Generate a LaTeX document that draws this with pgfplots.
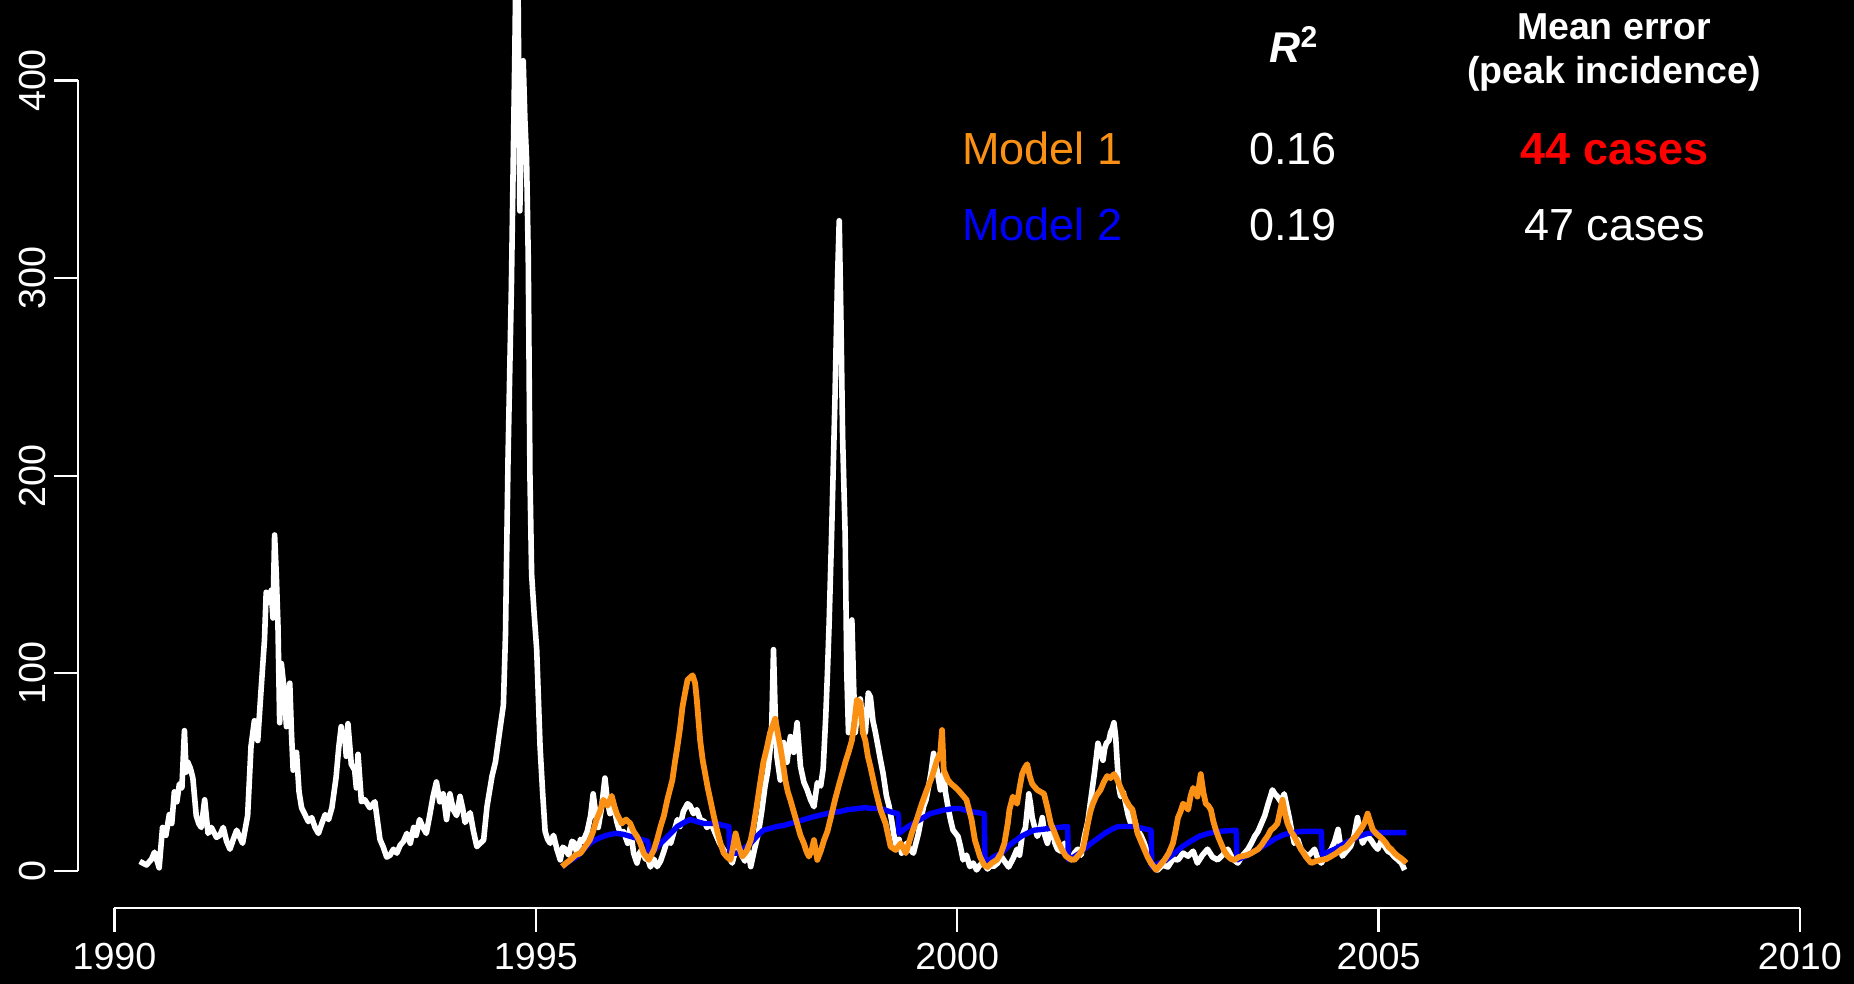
\documentclass[border=0pt]{standalone}
\usepackage{pgfplots}
\pgfplotsset{compat=1.18}
\usetikzlibrary{backgrounds}
\usepackage{fontspec}
\setmainfont{Liberation Sans}
\definecolor{mod1}{RGB}{250,145,20}
\definecolor{mod2}{RGB}{0,0,255}
\definecolor{errred}{RGB}{255,0,0}

\begin{document}
\begin{tikzpicture}
\begin{axis}[
  scale only axis,
  width=842.75bp, height=395.25bp,
  xmin=1990, xmax=2010, ymin=0, ymax=400,
  clip=false,
  axis x line=bottom, axis y line=left,
  axis x line shift=18.5bp, axis y line shift=18.25bp,
  axis line style={white, line width=1.1bp, -},
  xtick={1990,1995,2000,2005,2010},
  ytick={0,100,200,300,400},
  tick align=outside,
  major tick length=12bp,
  tick style={white, line width=1.1bp},
  tick label style={white, font=\fontsize{18.85bp}{22bp}\selectfont},
  /pgf/number format/assume math mode=true,
  /pgf/number format/1000 sep={},
  xticklabel style={anchor=base},
  xticklabel shift=18.6bp,
  yticklabel style={rotate=90, anchor=base},
  yticklabel shift=4.5bp,
]
% observed cases (white)
\addplot[white, line width=2.8bp, line join=round] table {
x y
1990.30 4.8
1990.38 3
1990.44 6
1990.475 9.5
1990.53 1.6
1990.57 22
1990.61 18
1990.65 28.5
1990.68 24
1990.71 40
1990.74 35
1990.77 44
1990.80 42
1990.83 71
1990.85 50
1990.87 55
1990.90 52
1990.93 47
1990.97 28
1991.00 24
1991.03 22
1991.07 36
1991.11 19
1991.15 22
1991.21 17
1991.25 18
1991.29 22
1991.33 15
1991.37 11
1991.41 16
1991.45 20.6
1991.52 14
1991.58 28
1991.62 63
1991.66 76
1991.70 66
1991.74 92
1991.78 117
1991.80 141
1991.82 138
1991.84 136
1991.86 142
1991.88 128
1991.90 170
1991.92 150
1991.94 124
1991.96 75
1991.98 105
1992.02 89
1992.04 73
1992.08 95
1992.10 70
1992.12 51
1992.16 60
1992.19 40
1992.22 32
1992.26 28.5
1992.30 25
1992.34 27
1992.38 22
1992.42 19
1992.46 24
1992.50 28.5
1992.54 26
1992.58 32
1992.63 47.5
1992.66 62
1992.69 73
1992.71 66
1992.73 70
1992.75 58
1992.77 74.5
1992.81 54
1992.85 51
1992.87 42
1992.89 59
1992.93 35
1992.97 36
1993.03 32
1993.09 35
1993.15 16
1993.19 12
1993.23 7
1993.27 8
1993.31 11
1993.35 9
1993.39 13
1993.43 15
1993.47 19
1993.51 14
1993.55 22
1993.58 18
1993.62 26
1993.66 22
1993.70 19
1993.74 28
1993.78 37.7
1993.82 45
1993.86 35
1993.90 39
1993.94 26
1993.98 39
1994.02 31
1994.06 28
1994.10 37.7
1994.13 32
1994.16 24.5
1994.22 29.5
1994.26 20
1994.30 12.3
1994.34 14
1994.38 15.6
1994.42 32.5
1994.48 48
1994.52 55
1994.575 72
1994.615 84
1994.64 120
1994.67 209
1994.71 296
1994.75 412
1994.77 480
1994.79 440
1994.81 334
1994.83 380
1994.85 410
1994.87 380
1994.89 360
1994.91 310
1994.93 200
1994.95 150
1994.98 130
1995.01 112
1995.05 63
1995.08 40
1995.11 20
1995.14 16
1995.17 14
1995.21 18
1995.25 11
1995.29 5.6
1995.32 12
1995.35 11
1995.39 8
1995.43 15
1995.46 14
1995.49 8
1995.53 16
1995.56 15
1995.61 20
1995.65 28
1995.68 39
1995.72 26
1995.74 22
1995.78 32
1995.82 47
1995.85 35
1995.88 29
1995.92 34
1995.96 25
1996.00 19
1996.04 20
1996.09 14
1996.12 22
1996.16 9
1996.20 4
1996.23 9
1996.26 11
1996.30 6
1996.32 7.3
1996.36 2
1996.40 6
1996.44 2.2
1996.48 5
1996.52 10
1996.56 15.5
1996.60 14
1996.64 20
1996.68 26
1996.71 22.5
1996.75 30
1996.80 34
1996.83 33
1996.87 29
1996.91 31
1996.95 26
1997.00 25
1997.03 22
1997.08 24
1997.13 19
1997.18 14
1997.23 10.6
1997.28 8
1997.33 4
1997.38 12
1997.43 9
1997.48 5
1997.52 10
1997.55 2.2
1997.60 12
1997.64 19
1997.68 30
1997.72 43
1997.75 50
1997.78 61.5
1997.80 75
1997.82 112
1997.84 80
1997.86 58
1997.90 46
1997.94 65
1997.98 55
1998.02 68
1998.06 60
1998.10 75
1998.14 53
1998.18 45
1998.22 41
1998.26 36
1998.30 32.5
1998.34 44.6
1998.38 43
1998.41 52
1998.44 78
1998.46 100
1998.48 125
1998.51 171
1998.55 240
1998.58 300
1998.60 329
1998.62 280
1998.64 220
1998.67 171
1998.69 100
1998.71 70
1998.73 90
1998.75 127
1998.77 95
1998.79 70
1998.82 82
1998.85 87
1998.88 75
1998.91 70
1998.945 90
1998.97 88
1999.00 76
1999.03 70
1999.06 63
1999.09 56
1999.12 49.5
1999.16 38
1999.19 33
1999.22 26
1999.25 18
1999.28 12.3
1999.31 16
1999.34 9
1999.37 12
1999.40 14
1999.44 11
1999.48 9
1999.51 14
1999.54 19
1999.57 26
1999.60 32.5
1999.63 36
1999.66 42.6
1999.69 50
1999.72 59.5
1999.74 55
1999.76 51
1999.80 41
1999.84 49.5
1999.86 40
1999.89 32.5
1999.92 26
1999.95 20.7
2000.01 17.4
2000.04 12
2000.07 5.6
2000.11 8
2000.15 2.2
2000.19 4
2000.23 0.5
2000.27 3
2000.31 4
2000.36 1
2000.40 3
2000.43 2.2
2000.48 4
2000.52 7.5
2000.56 5
2000.61 2
2000.66 6
2000.71 11
2000.74 8
2000.77 17.5
2000.81 22
2000.85 39
2000.87 34
2000.89 27
2000.92 22
2000.95 17.5
2000.98 20
2001.01 27
2001.04 18
2001.07 14
2001.10 19
2001.13 21
2001.16 14
2001.19 11
2001.23 10
2001.27 14
2001.31 8
2001.35 5.6
2001.39 9
2001.43 11
2001.47 8
2001.51 17.5
2001.55 25
2001.59 37.6
2001.63 50
2001.67 64.6
2001.70 60
2001.73 56
2001.75 62
2001.77 64.6
2001.80 66
2001.82 70
2001.84 72
2001.86 75
2001.88 68
2001.90 54
2001.92 42
2001.94 37.6
2001.97 40
2002.00 34
2002.03 28
2002.06 24
2002.10 26
2002.14 20.6
2002.18 18
2002.22 14
2002.26 9
2002.30 4
2002.34 2
2002.38 0.5
2002.44 3
2002.50 2
2002.56 6
2002.62 5.6
2002.68 9
2002.74 7.5
2002.80 10
2002.85 4
2002.91 8
2002.97 11
2003.03 7
2003.09 5.6
2003.15 8
2003.21 11
2003.27 6
2003.33 4
2003.39 8
2003.45 11
2003.49 14
2003.53 17.5
2003.57 20
2003.61 24
2003.65 28
2003.69 34
2003.72 38
2003.74 41
2003.77 39
2003.80 37.6
2003.84 35
2003.88 39
2003.91 33
2003.94 27
2003.97 20
2004.00 14
2004.04 16
2004.08 11
2004.12 9
2004.16 7.5
2004.20 9
2004.24 11
2004.28 6
2004.32 4
2004.38 8
2004.44 11
2004.48 15
2004.52 21
2004.55 12
2004.57 7.5
2004.62 10
2004.67 12.6
2004.71 18
2004.75 27
2004.78 20
2004.81 14
2004.86 18
2004.91 15.6
2004.95 13
2004.99 11
2005.03 15
2005.07 12.6
2005.11 10
2005.15 9
2005.19 7
2005.23 5.6
2005.27 4
2005.31 0.5
};
% Model 2 (blue)
\addplot[mod2, line width=2.7bp, line join=round] table {
x y
1995.31 2.2
1995.40 5
1995.49 7.3
1995.56 10.5
1995.64 14
1995.72 16
1995.80 17.5
1995.88 18.5
1995.96 19
1996.04 18.5
1996.12 17.5
1996.20 16.5
1996.28 15.6
1996.33 15
1996.34 7.3
1996.40 10
1996.46 13
1996.52 15.6
1996.60 19
1996.68 22.5
1996.76 24.5
1996.83 26
1996.91 25
1996.99 24
1997.07 24
1997.15 24
1997.22 23
1997.29 22.5
1997.30 9
1997.39 9
1997.47 11.5
1997.55 14
1997.62 17.5
1997.70 20.6
1997.78 21.5
1997.86 22.5
1997.94 23
1998.02 24
1998.10 25
1998.18 26
1998.30 27.5
1998.40 28.5
1998.50 29.5
1998.60 30
1998.70 31
1998.80 31.5
1998.90 32
1999.00 31.6
1999.09 31.6
1999.20 30
1999.30 29
1999.31 19
1999.40 22
1999.48 24
1999.56 26
1999.68 29
1999.84 30.8
1999.95 31.5
2000.03 31.6
2000.16 30
2000.32 29
2000.33 4
2000.44 7.3
2000.53 9
2000.60 12.3
2000.68 15
2000.76 17.5
2000.84 19.2
2000.91 20.6
2001.00 21
2001.11 21.6
2001.20 22
2001.31 22.5
2001.32 5.6
2001.38 7
2001.45 9
2001.52 11.5
2001.59 14
2001.67 16.5
2001.75 19
2001.83 21
2001.91 22.5
2002.00 22.5
2002.11 22.5
2002.20 21.5
2002.30 20.6
2002.31 2
2002.40 4
2002.48 5.6
2002.58 9
2002.67 12.3
2002.77 15
2002.87 17.5
2002.98 19
2003.09 20
2003.20 20.3
2003.31 20.6
2003.32 5.6
2003.40 7
2003.49 9
2003.59 11.5
2003.69 14
2003.78 16.5
2003.88 18.4
2003.98 19.3
2004.08 20
2004.20 20
2004.32 20
2004.33 8.4
2004.40 9.5
2004.48 11
2004.58 13.5
2004.67 15.6
2004.77 17.5
2004.87 19
2004.97 19.3
2005.07 19.4
2005.20 19.4
2005.33 19.4
};
% Model 1 (orange)
\addplot[mod1, line width=2.9bp, line join=round] table {
x y
1995.31 2.2
1995.36 4
1995.41 5.6
1995.47 8
1995.53 9
1995.58 12
1995.64 15.6
1995.68 20
1995.72 26
1995.76 30
1995.80 36
1995.85 33
1995.90 38
1995.93 33
1995.96 29
1996.02 24
1996.07 26
1996.12 24
1996.16 20
1996.20 17.5
1996.24 14
1996.28 9
1996.34 5.6
1996.40 10.6
1996.44 16
1996.48 22.5
1996.52 28
1996.56 36
1996.62 46
1996.65 55
1996.68 63
1996.71 72
1996.74 83
1996.77 90
1996.80 96.7
1996.86 99
1996.89 95
1996.91 86.6
1996.95 66
1996.98 56
1997.01 49
1997.04 42
1997.07 36
1997.11 28
1997.15 20.6
1997.19 14
1997.23 9
1997.27 7
1997.31 5.6
1997.34 12
1997.37 19
1997.41 12
1997.45 7.3
1997.50 10
1997.55 15.6
1997.58 22
1997.62 32.5
1997.66 44
1997.70 55
1997.74 62
1997.78 70
1997.84 77
1997.87 70
1997.90 63
1997.93 55
1997.96 46
1997.99 40
1998.02 36
1998.06 30
1998.10 24
1998.14 18
1998.18 14
1998.21 10
1998.24 7.3
1998.27 10
1998.30 15.6
1998.34 5.6
1998.38 10
1998.42 15.6
1998.46 20
1998.50 27
1998.55 36
1998.60 44
1998.64 50
1998.68 56
1998.71 60
1998.75 66
1998.78 75
1998.81 86.6
1998.85 85
1998.88 70
1998.91 66
1998.94 58
1998.97 52.7
1999.03 41
1999.09 30.8
1999.15 24
1999.21 12.3
1999.27 10.6
1999.33 14
1999.39 9
1999.46 19
1999.52 26
1999.58 34
1999.64 41
1999.70 47.5
1999.76 56
1999.80 60
1999.82 71.3
1999.84 51
1999.89 46
1999.93 44
1999.97 42.6
2000.01 41
2000.05 39
2000.11 36
2000.17 26
2000.21 15.6
2000.27 7.3
2000.32 3
2000.36 2
2000.41 4
2000.47 5.6
2000.52 9
2000.56 14
2000.60 24
2000.62 31
2000.66 37.6
2000.71 34
2000.74 42
2000.77 49
2000.80 52
2000.83 54
2000.86 48
2000.89 44
2000.95 41
2001.03 39
2001.07 32
2001.11 24
2001.15 20
2001.19 15.6
2001.24 11
2001.29 7.5
2001.34 6
2001.39 5.6
2001.44 8
2001.49 11
2001.52 17
2001.55 24
2001.58 30
2001.61 34
2001.65 38
2001.70 41
2001.74 45
2001.78 48
2001.82 47
2001.86 49
2001.89 47
2001.92 44
2001.96 40
2002.00 36
2002.04 33
2002.08 31
2002.11 25
2002.14 19
2002.18 15
2002.22 11
2002.26 7
2002.30 4
2002.36 0.5
2002.41 3
2002.46 5.6
2002.51 9
2002.56 14
2002.59 20
2002.62 27
2002.65 30
2002.68 34
2002.71 33
2002.74 31
2002.77 38
2002.80 42
2002.83 40
2002.85 37.6
2002.89 49
2002.92 40
2002.95 34
2002.98 33
2003.01 31
2003.04 25
2003.07 20.6
2003.10 17
2003.13 14
2003.17 10
2003.21 7.5
2003.25 6
2003.29 5.6
2003.34 7
2003.39 7.5
2003.44 8
2003.49 9
2003.53 10
2003.57 11
2003.61 13
2003.65 15.6
2003.69 18
2003.72 20.6
2003.76 22
2003.80 24
2003.83 30
2003.86 36
2003.89 29
2003.92 24
2003.96 20
2004.00 17.5
2004.04 14
2004.08 11
2004.14 7
2004.20 4
2004.26 5
2004.32 5.6
2004.38 6
2004.44 7.5
2004.50 9
2004.56 11
2004.61 12
2004.65 14
2004.69 16
2004.73 17.5
2004.77 20
2004.81 22.5
2004.84 25
2004.87 29
2004.90 25
2004.93 21
2004.97 19
2005.01 17.5
2005.05 16
2005.09 14
2005.12 12
2005.15 11
2005.19 9
2005.23 7.5
2005.28 6
2005.33 4
};
% table of fit statistics
\node[anchor=base, white, font=\fontsize{21.5bp}{24bp}\selectfont\bfseries] at (axis cs:2003.997,408.9) {\textit{R}\textsuperscript{2}};
\node[anchor=base, white, font=\fontsize{18.75bp}{21bp}\selectfont\bfseries] at (axis cs:2007.793,420.5) {Mean error};
\node[anchor=base, white, font=\fontsize{18.75bp}{21bp}\selectfont\bfseries] at (axis cs:2007.793,398.6) {(peak incidence)};
\node[anchor=base west, inner sep=0pt, mod1, font=\fontsize{22.5bp}{25bp}\selectfont] at (axis cs:2000.057,357.7) {Model 1};
\node[anchor=base, white, font=\fontsize{22.5bp}{25bp}\selectfont] at (axis cs:2003.984,357.7) {0.16};
\node[anchor=base, errred, font=\fontsize{22.5bp}{25bp}\selectfont\bfseries] at (axis cs:2007.80,357.7) {44 cases};
\node[anchor=base west, inner sep=0pt, mod2, font=\fontsize{22.5bp}{25bp}\selectfont] at (axis cs:2000.057,318.8) {Model 2};
\node[anchor=base, white, font=\fontsize{22.5bp}{25bp}\selectfont] at (axis cs:2003.984,318.8) {0.19};
\node[anchor=base, white, font=\fontsize{22.5bp}{25bp}\selectfont] at (axis cs:2007.80,318.8) {47 cases};
\coordinate (bbsw) at (axis cs:1988.6413,-57.18);
\coordinate (bbne) at (axis cs:2010.642,440.73);
\end{axis}
\begin{pgfonlayer}{background}
\fill[black] (bbsw) rectangle (bbne);
\end{pgfonlayer}
\pgfresetboundingbox
\useasboundingbox (bbsw) rectangle (bbne);
\end{tikzpicture}
\end{document}
